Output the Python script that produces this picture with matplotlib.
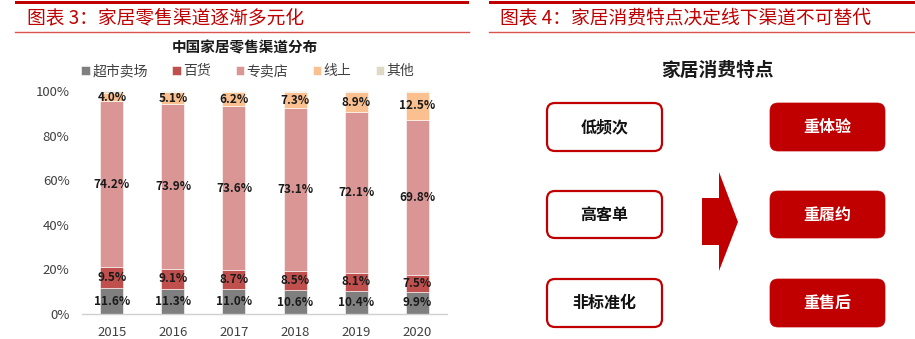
import matplotlib
matplotlib.use("Agg")
import matplotlib.pyplot as plt
from matplotlib.patches import FancyBboxPatch, Polygon, Rectangle
import numpy as np

plt.rcParams['font.family'] = ['Noto Sans CJK SC', 'DejaVu Sans']

# ---- data ----
years = ["2015", "2016", "2017", "2018", "2019", "2020"]
channels = ["超市卖场", "百货", "专卖店", "线上", "其他"]
supermarket = [11.6, 11.3, 11.0, 10.6, 10.4, 9.9]
department = [9.5, 9.1, 8.7, 8.5, 8.1, 7.5]
specialty = [74.2, 73.9, 73.6, 73.1, 72.1, 69.8]
online = [4.0, 5.1, 6.2, 7.3, 8.9, 12.5]
other = [0.7, 0.6, 0.5, 0.5, 0.5, 0.3]
yticks = [0, 20, 40, 60, 80, 100]

traits = ["低频次", "高客单", "非标准化"]
needs = ["重体验", "重履约", "重售后"]

colors = ["#7f7f7f", "#c0504d", "#d99694", "#fac090", "#ddd9c3"]
RED = "#c00000"

W, H = 915, 339
fig = plt.figure(figsize=(W / 100, H / 100), dpi=100)

# ---- stacked bar chart ----
ax = fig.add_axes([82 / W, 1 - 314 / H, 365 / W, 223 / H])
series = [supermarket, department, specialty, online, other]
x = np.arange(len(years))
bottom = np.zeros(len(years))
for vals, c, name in zip(series, colors, channels):
    vals = np.array(vals)
    ax.bar(x, vals, 0.377, bottom=bottom, color=c, edgecolor="white",
           linewidth=0.4, label=name)
    if name != "其他":
        for xi, b, v in zip(x, bottom, vals):
            ax.text(xi, b + v / 2, f"{v:.1f}%", ha="center", va="center",
                    fontsize=8.5, fontweight="bold", color="#1a1a1a")
    bottom += vals

ax.set_xlim(-0.49, len(years) - 0.51)
ax.set_ylim(0, 100)
ax.set_yticks(yticks)
ax.set_yticklabels([f"{v}%" for v in yticks])
ax.set_xticks(x)
ax.set_xticklabels(years)
ax.tick_params(axis="both", length=0, labelsize=9.5, colors="#404040")
ax.tick_params(axis="y", pad=9)
ax.tick_params(axis="x", pad=9)
for s in ["left", "right", "top"]:
    ax.spines[s].set_visible(False)
ax.spines["bottom"].set_color("#d0d0d0")
ax.spines["bottom"].set_linewidth(1.0)

fig.text(245 / W, 1 - 48 / H, "中国家居零售渠道分布", ha="center", va="center",
         fontsize=10.5, fontweight="bold", color="#1a1a1a")
handles, labels = ax.get_legend_handles_labels()
fig.legend(handles, labels, loc="center", bbox_to_anchor=(248 / W, 1 - 71 / H),
           ncol=5, frameon=False, fontsize=10, handlelength=0.6,
           handleheight=0.6, handletextpad=0.2, columnspacing=1.75,
           labelcolor="#404040", borderaxespad=0, borderpad=0)

# ---- overlay for headers and diagram ----
ov = fig.add_axes([0, 0, 1, 1], zorder=-1)
ov.set_xlim(0, W)
ov.set_ylim(H, 0)
ov.axis("off")

# header rules
ov.add_patch(Rectangle((15, 0.5), 454, 3.5, color=RED, lw=0))
ov.add_patch(Rectangle((489, 0.5), 426, 3.5, color=RED, lw=0))
ov.plot([15, 469], [32, 32], color="#d9534f", lw=1.0)
ov.plot([489, 915], [32, 32], color="#d9534f", lw=1.0)

ov.text(27, 18, "图表 3：家居零售渠道逐渐多元化", ha="left", va="center",
        fontsize=13.5, color=RED)
ov.text(500, 18, "图表 4：家居消费特点决定线下渠道不可替代", ha="left", va="center",
        fontsize=13.5, color=RED)

ov.text(717, 70, "家居消费特点", ha="center", va="center", fontsize=13.5,
        fontweight="bold", color="#1a1a1a")

rows = [(103, 151), (191, 238), (279, 327)]
for (y0, y1), t, n in zip(rows, traits, needs):
    ov.add_patch(FancyBboxPatch((547, y0), 115, y1 - y0,
                                boxstyle="round,pad=0,rounding_size=8",
                                facecolor="white", edgecolor=RED, lw=1.6))
    ov.text(604.5, (y0 + y1) / 2, t, ha="center", va="center", fontsize=11.5,
            fontweight="bold", color="#111111")
    ov.add_patch(FancyBboxPatch((770, y0), 115, y1 - y0,
                                boxstyle="round,pad=0,rounding_size=8",
                                facecolor=RED, edgecolor=RED, lw=0.5))
    ov.text(827.5, (y0 + y1) / 2, n, ha="center", va="center", fontsize=11.5,
            fontweight="bold", color="white")

# block arrow between the two columns
ov.add_patch(Polygon([(702, 198), (719, 198), (719, 172), (738, 222),
                      (719, 271), (719, 245), (702, 245)],
                     closed=True, facecolor=RED, edgecolor="none"))

fig.savefig("out.png", dpi=100)
